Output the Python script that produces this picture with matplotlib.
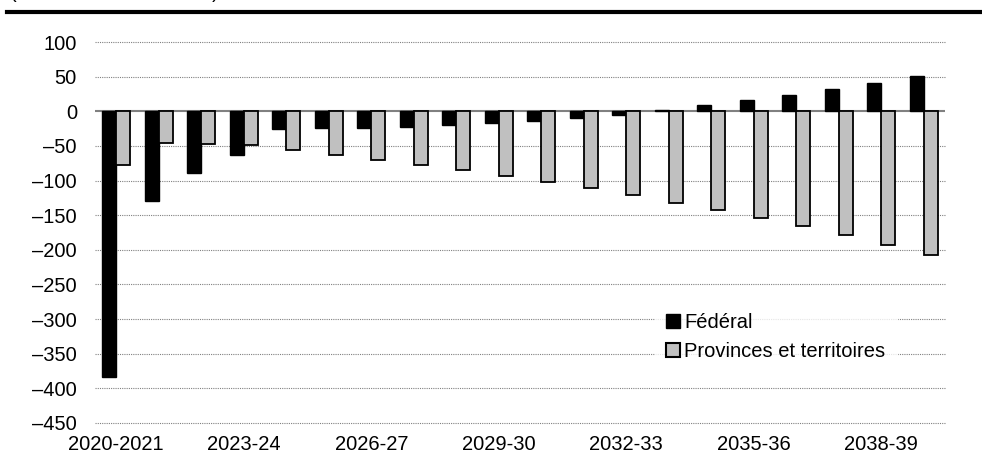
import numpy as np
import matplotlib
matplotlib.use("Agg")
import matplotlib.pyplot as plt
from matplotlib.patches import Patch
from matplotlib.lines import Line2D
from matplotlib.ticker import FuncFormatter

plt.rcParams['font.family'] = ['Liberation Sans', 'DejaVu Sans']

# Data (billions of dollars)
years = ["2020-2021", "2021-22", "2022-23", "2023-24", "2024-25", "2025-26",
         "2026-27", "2027-28", "2028-29", "2029-30", "2030-31", "2031-32",
         "2032-33", "2033-34", "2034-35", "2035-36", "2036-37", "2037-38",
         "2038-39", "2039-40"]
federal = [-383, -130, -89, -63, -25, -24, -24, -22, -20, -17,
           -14, -10, -5, 2, 9, 16, 24, 32, 41, 51]
provinces = [-77, -46, -47, -49, -56, -63, -70, -77, -85, -93,
             -102, -111, -121, -132, -143, -154, -166, -179, -193, -207]
shown_ticks = years[::3]

fig = plt.figure(figsize=(9.82, 4.63), dpi=100)
ax = fig.add_axes([95 / 982, 1 - 423 / 463, 850 / 982, 381 / 463])

x = np.arange(len(years))
w = 0.33
ax.bar(x - w / 2, federal, width=w, color="black", edgecolor="black", linewidth=1.0, zorder=3)
ax.bar(x + w / 2, provinces, width=w, color="#c0c0c0", edgecolor="black", linewidth=1.3, zorder=3)

ax.set_xlim(-0.5, len(years) - 0.5)
ax.set_ylim(-450, 100)
ax.set_yticks(np.arange(-450, 101, 50))
ax.yaxis.set_major_formatter(FuncFormatter(lambda v, p: f"{int(v)}".replace("-", "\u2013")))
ax.set_xticks(x[::3])
ax.set_xticklabels(shown_ticks)

for v in np.arange(-450, 101, 50):
    if v != 0:
        ax.axhline(v, color="#808080", linestyle=(0, (1, 1)), linewidth=0.8, zorder=1, clip_on=False)
ax.axhline(0, color="#808080", linewidth=1.5, zorder=2)

for s in ax.spines.values():
    s.set_visible(False)
ax.tick_params(axis="both", length=0, labelsize=14.5, colors="black")
ax.tick_params(axis="y", pad=13)
ax.tick_params(axis="x", pad=9)

handles = [Patch(facecolor="black", edgecolor="black", label="Fédéral"),
           Patch(facecolor="#c0c0c0", edgecolor="black", linewidth=1.5, label="Provinces et territoires")]
leg = ax.legend(handles=handles, loc="upper left", bbox_to_anchor=(0.659, 0.318),
                fontsize=14.5, frameon=True, fancybox=False, handlelength=0.7,
                handleheight=0.7, handletextpad=0.2, labelspacing=0.5,
                borderpad=0.55, borderaxespad=0)
leg.get_frame().set_facecolor("white")
leg.get_frame().set_edgecolor("white")
leg.set_zorder(5)

# header rule and cut-off unit label
fig.add_artist(Line2D([7 / 982, 1], [1 - 12 / 463, 1 - 12 / 463], color="black", linewidth=3.0))
fig.text(10 / 982, 1 + 2 / 463, "(en milliards de dollars)", fontsize=14.5, va="baseline", ha="left")

fig.savefig("out.png", dpi=100)
